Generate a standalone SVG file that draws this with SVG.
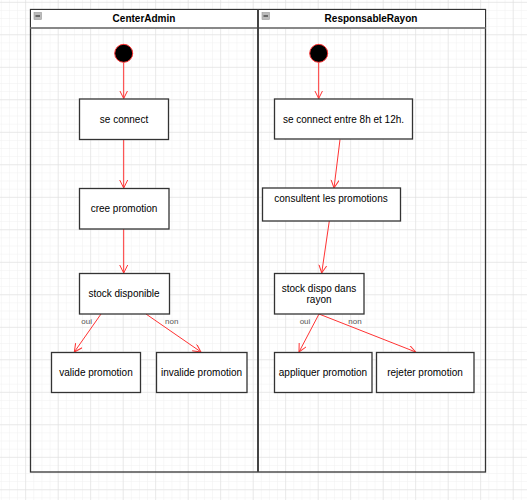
<svg xmlns="http://www.w3.org/2000/svg" width="527" height="500" viewBox="0 0 527 500">
<style>
.node rect{fill:#fff;stroke:#333;stroke-width:1.3}
.txt{font-family:"Liberation Sans",Arial,sans-serif;font-size:10px;fill:#000;text-anchor:middle}
.hdr{font-family:"Liberation Sans",Arial,sans-serif;font-size:10px;font-weight:bold;fill:#000;text-anchor:middle}
.lbl{font-family:"Liberation Sans",Arial,sans-serif;font-size:8px;fill:#555;text-anchor:middle}
.edge{stroke:#ff3333;stroke-width:1;fill:none;marker-end:url(#arr)}
.init{fill:#000;stroke:#ff3333;stroke-width:1}
.icon{fill:#bbb;stroke:#999;stroke-width:0.6}
</style>
<defs>
<pattern id="minor" x="25.2" y="1.8" width="8.125" height="8.125" patternUnits="userSpaceOnUse">
<path d="M0 0V8.125M0 0H8.125" stroke="#f0f0f0" stroke-width="1" fill="none"/>
</pattern>
<pattern id="major" x="25.2" y="1.8" width="32.5" height="32.5" patternUnits="userSpaceOnUse">
<path d="M0 0V32.5M0 0H32.5" stroke="#dcdcdc" stroke-width="1" fill="none"/>
</pattern>
<marker id="arr" markerWidth="10" markerHeight="10" refX="8" refY="4" orient="auto" markerUnits="userSpaceOnUse">
<path d="M0 0L8 4L0 8" fill="none" stroke="#ff3333" stroke-width="1"/>
</marker>
</defs>
<rect width="527" height="500" fill="#fff"/>
<rect width="527" height="500" fill="url(#minor)"/>
<rect width="527" height="500" fill="url(#major)"/>

<g id="pool">
<rect x="30.5" y="9.5" width="455" height="462.5" fill="none" stroke="#333" stroke-width="1.3"/>
<rect x="31" y="10" width="454" height="17.5" fill="#fff"/>
<line x1="30.5" y1="28" x2="485.5" y2="28" stroke="#888" stroke-width="2"/>
<line x1="258" y1="9.5" x2="258" y2="472" stroke="#444" stroke-width="2"/>
</g>
<g id="lane-centeradmin">
<rect class="icon" x="34" y="12.5" width="7.5" height="7"/>
<line x1="35.5" y1="16" x2="40" y2="16" stroke="#333" stroke-width="1.2"/>
<text class="hdr" x="144" y="22">CenterAdmin</text>
</g>
<g id="lane-responsablerayon">
<rect class="icon" x="262" y="12.5" width="7.5" height="7"/>
<line x1="263.5" y1="16" x2="268" y2="16" stroke="#333" stroke-width="1.2"/>
<text class="hdr" x="371" y="22">ResponsableRayon</text>
</g>

<g id="connectors">
<line class="edge" x1="123.7" y1="62.5" x2="123.7" y2="98.5"/>
<line class="edge" x1="123.7" y1="139.5" x2="123.7" y2="188"/>
<line class="edge" x1="123.7" y1="229" x2="123.7" y2="273"/>
<line class="edge" x1="101" y1="314" x2="74.3" y2="352"/>
<line class="edge" x1="146" y1="314" x2="201" y2="352"/>
<text class="lbl" x="86.7" y="324">oui</text>
<text class="lbl" x="171.7" y="324">non</text>
<line class="edge" x1="318.7" y1="62.5" x2="318.7" y2="98.5"/>
<line class="edge" x1="340" y1="139.5" x2="334" y2="188"/>
<line class="edge" x1="329.3" y1="221" x2="321.7" y2="273"/>
<line class="edge" x1="319" y1="314" x2="299" y2="352"/>
<line class="edge" x1="319" y1="314" x2="415.7" y2="352"/>
<text class="lbl" x="305" y="323.5">oui</text>
<text class="lbl" x="355" y="323.5">non</text>
</g>

<g id="start-centeradmin"><circle class="init" cx="123.7" cy="53.3" r="9"/></g>
<g id="start-responsablerayon"><circle class="init" cx="318.7" cy="53.3" r="9"/></g>

<g id="se-connect" class="node"><rect x="79.5" y="99" width="89" height="40.5"/><text class="txt" x="124" y="122.5">se connect</text></g>
<g id="cree-promotion" class="node"><rect x="79.5" y="188.5" width="89.5" height="40.5"/><text class="txt" x="124" y="212">cree promotion</text></g>
<g id="stock-disponible" class="node"><rect x="79.5" y="273.5" width="90" height="40.5"/><text class="txt" x="124" y="297">stock disponible</text></g>
<g id="valide-promotion" class="node"><rect x="51.5" y="352.5" width="89" height="40"/><text class="txt" x="96" y="376">valide promotion</text></g>
<g id="invalide-promotion" class="node"><rect x="156.5" y="352.5" width="90.5" height="40"/><text class="txt" x="201.5" y="376">invalide promotion</text></g>

<g id="se-connect-8h-12h" class="node"><rect x="274.5" y="99" width="138" height="40"/><text class="txt" x="343.5" y="122.5">se connect entre 8h et 12h.</text></g>
<g id="consultent-promotions" class="node"><rect x="262.5" y="188" width="138" height="33"/><text class="txt" x="331" y="202">consultent les promotions</text></g>
<g id="stock-dispo-rayon" class="node"><rect x="274.5" y="273.5" width="89.5" height="40.5"/><text class="txt" x="319" y="291.5">stock dispo dans</text><text class="txt" x="319" y="303">rayon</text></g>
<g id="appliquer-promotion" class="node"><rect x="274.5" y="352.5" width="97.5" height="40"/><text class="txt" x="323" y="376">appliquer promotion</text></g>
<g id="rejeter-promotion" class="node"><rect x="376.5" y="352.5" width="97.5" height="40"/><text class="txt" x="425" y="376">rejeter promotion</text></g>
</svg>
